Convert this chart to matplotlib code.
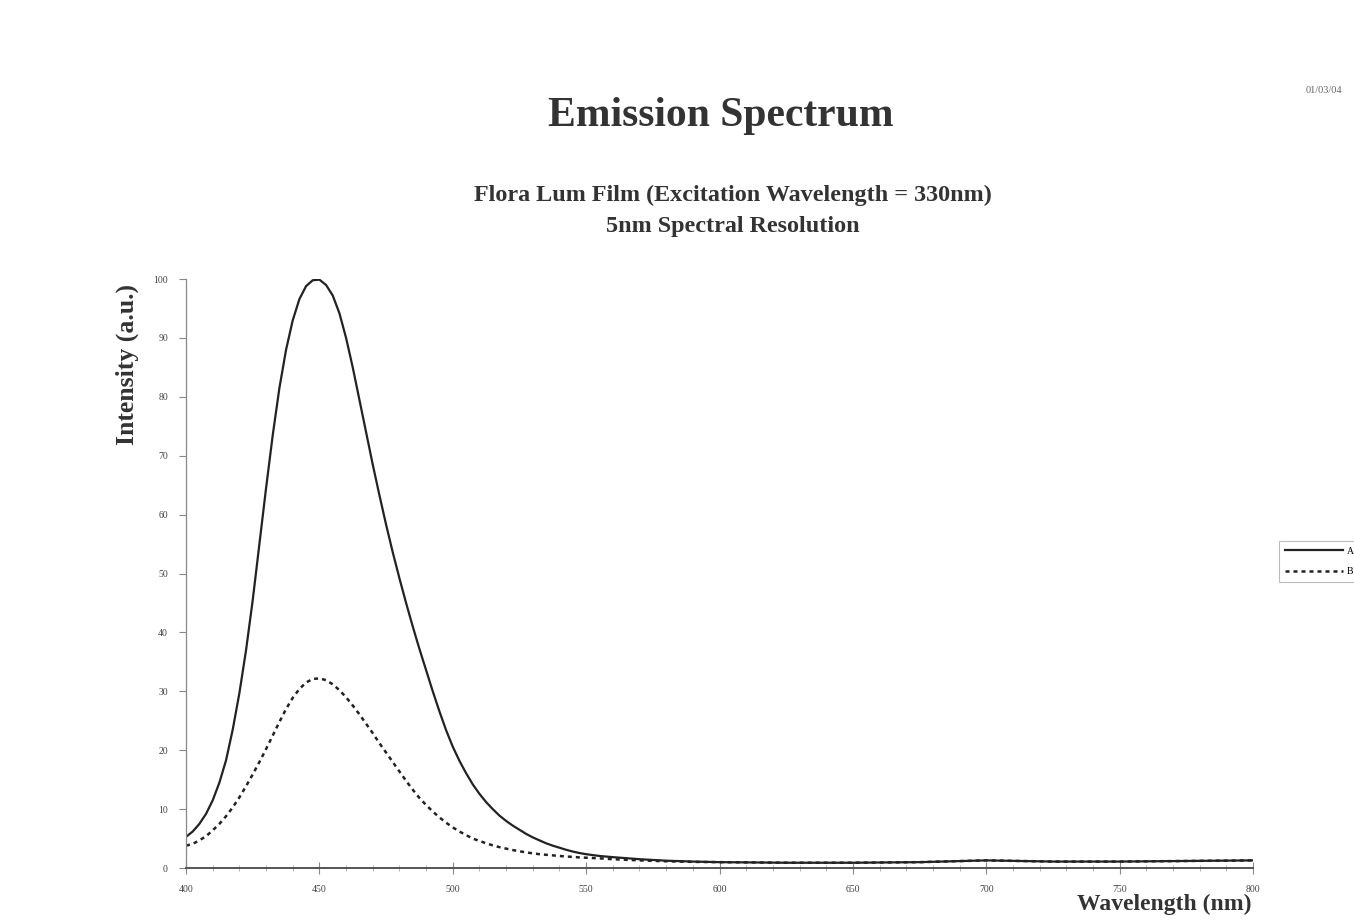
import matplotlib.pyplot as plt
from matplotlib.ticker import MultipleLocator

# Emission spectra of the film: 2.5 nm steps across the band, coarser in the flat tail
wavelength = [400, 402.5, 405, 407.5, 410, 412.5, 415, 417.5, 420, 422.5,
              425, 427.5, 430, 432.5, 435, 437.5, 440, 442.5, 445, 447.5,
              450, 452.5, 455, 457.5, 460, 462.5, 465, 467.5, 470, 472.5,
              475, 477.5, 480, 482.5, 485, 487.5, 490, 492.5, 495, 497.5,
              500, 502.5, 505, 507.5, 510, 512.5, 515, 517.5, 520, 522.5,
              525, 527.5, 530, 532.5, 535, 537.5, 540, 542.5, 545, 547.5,
              550, 555, 560, 570, 580, 590, 600, 625, 650, 675,
              700, 725, 750, 775, 800]

intensity_a = [5.3, 6.2, 7.5, 9.2, 11.5, 14.5, 18.3, 23.5, 29.7, 37.0,
               45.5, 55.0, 64.5, 73.5, 81.5, 88.0, 93.0, 96.6, 98.8, 99.8,
               99.9, 99.0, 97.2, 94.2, 90.0, 85.0, 79.5, 74.0, 68.5, 63.3,
               58.3, 53.6, 49.2, 45.0, 41.0, 37.2, 33.6, 30.0, 26.6, 23.4,
               20.6, 18.2, 16.1, 14.2, 12.6, 11.2, 10.0, 8.9, 8.0, 7.2,
               6.5, 5.8, 5.2, 4.7, 4.2, 3.8, 3.45, 3.1, 2.8, 2.55,
               2.35, 2.05, 1.85, 1.5, 1.25, 1.1, 1.0, 0.9, 0.9, 1.0,
               1.3, 1.1, 1.1, 1.2, 1.3]

intensity_b = [3.8, 4.1, 4.7, 5.4, 6.4, 7.5, 8.8, 10.3, 12.0, 13.9,
               15.9, 18.0, 20.2, 22.5, 24.8, 27.0, 28.9, 30.4, 31.5, 32.1,
               32.2, 31.9, 31.2, 30.2, 29.0, 27.6, 26.1, 24.5, 22.9, 21.2,
               19.6, 18.0, 16.4, 14.8, 13.3, 11.9, 10.7, 9.6, 8.6, 7.7,
               6.9, 6.2, 5.6, 5.0, 4.6, 4.2, 3.85, 3.55, 3.3, 3.05,
               2.85, 2.65, 2.5, 2.35, 2.25, 2.15, 2.05, 1.95, 1.9, 1.8,
               1.75, 1.65, 1.5, 1.3, 1.15, 1.05, 1.0, 0.9, 0.9, 1.0,
               1.3, 1.1, 1.1, 1.2, 1.3]

plt.rcParams['font.family'] = ['Liberation Serif', 'DejaVu Serif']

fig = plt.figure(figsize=(13.54, 9.21), dpi=100)
ax = fig.add_axes([0.1374, 0.0575, 0.788, 0.6395])

line_a, = ax.plot(wavelength, intensity_a, color='#222222', lw=1.6, label='A')
line_b, = ax.plot(wavelength, intensity_b, color='#222222', lw=1.8,
                  linestyle=(0, (1.6, 1.6)), label='B')

ax.set_xlim(400, 800)
ax.set_ylim(0, 100)
ax.xaxis.set_major_locator(MultipleLocator(50))
ax.xaxis.set_minor_locator(MultipleLocator(10))
ax.yaxis.set_major_locator(MultipleLocator(10))

for side in ['top', 'right']:
    ax.spines[side].set_visible(False)
ax.spines['left'].set_color('#888888')
ax.spines['bottom'].set_color('#555555')
ax.spines['left'].set_linewidth(0.9)
ax.spines['bottom'].set_linewidth(1.4)

ax.tick_params(axis='y', direction='out', length=5, width=0.8, colors='#888888',
               labelcolor='#444444', labelsize=7, pad=8)
ax.tick_params(axis='x', which='major', direction='inout', length=8, width=0.8,
               colors='#888888', labelcolor='#444444', labelsize=7, pad=8)
ax.tick_params(axis='x', which='minor', direction='inout', length=4, width=0.6,
               colors='#aaaaaa')

# titles and axis labels
fig.text(0.532, 0.874, 'Emission Spectrum', ha='center', va='center',
         fontsize=30, fontweight='bold', color='#333333')
fig.text(0.541, 0.788, 'Flora Lum Film (Excitation Wavelength = 330nm)',
         ha='center', va='center', fontsize=17.4, fontweight='bold', color='#333333')
fig.text(0.541, 0.754, '5nm Spectral Resolution', ha='center', va='center',
         fontsize=17.4, fontweight='bold', color='#333333')
fig.text(0.094, 0.604, 'Intensity (a.u.)', rotation=90, ha='center', va='center',
         fontsize=18.5, fontweight='bold', color='#333333')
fig.text(0.924, 0.018, 'Wavelength (nm)', ha='right', va='center',
         fontsize=17, fontweight='bold', color='#333333')
fig.text(0.9645, 0.902, '01/03/04', ha='left', va='center', fontsize=7.5,
         color='#666666')

leg = fig.legend(handles=[line_a, line_b], loc='upper left',
                 bbox_to_anchor=(1274 / 1354, 1 - 536 / 921), fontsize=7,
                 handlelength=6.0, handletextpad=0.4, labelspacing=1.2,
                 borderpad=0.6, fancybox=False, frameon=True)
leg.get_frame().set_edgecolor('#aaaaaa')
leg.get_frame().set_linewidth(0.8)

fig.savefig('out.png', dpi=100)
